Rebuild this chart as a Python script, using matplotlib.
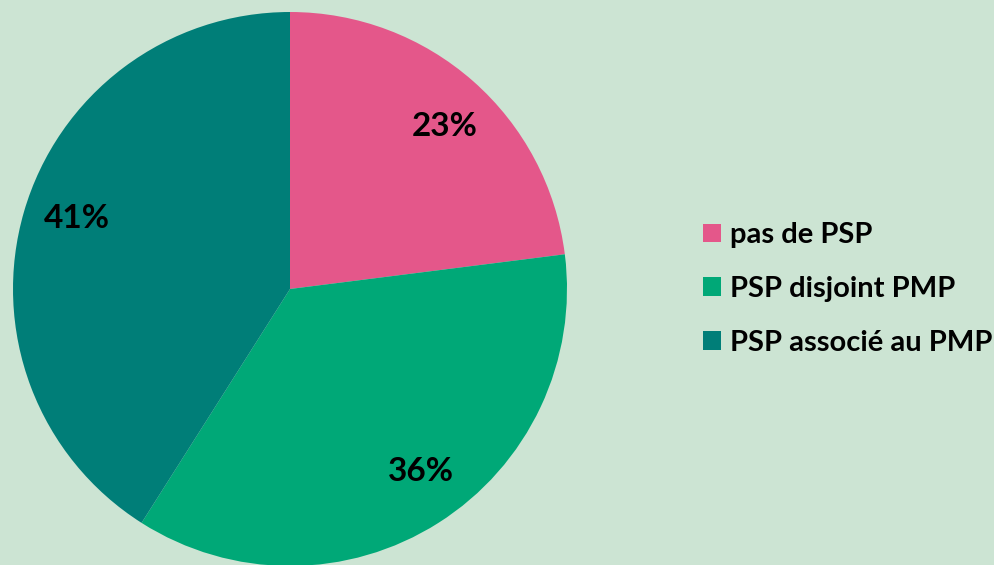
import matplotlib
matplotlib.use("Agg")
import numpy as np
import matplotlib.pyplot as plt
from matplotlib.patches import Patch

categories = ['pas de PSP', 'PSP disjoint PMP', 'PSP associé au PMP']
shares = [23, 36, 41]
colors = ['#E4578A', '#00A877', '#007E78']
bg = '#CCE4D3'

plt.rcParams['font.family'] = ['Lato', 'DejaVu Sans']

W, H = 994, 565
fig = plt.figure(figsize=(W/100, H/100), dpi=100, facecolor=bg)

# pie centre (290, 289) px, radius 277 px
cx, cy, r = 290, H - 289, 277
ax = fig.add_axes([(cx - r)/W, (cy - r)/H, 2*r/W, 2*r/H])
ax.set_facecolor(bg)
wedges, texts, autotexts = ax.pie(shares, colors=colors, startangle=90, counterclock=False,
                                  autopct='%d%%', pctdistance=0.81, radius=1,
                                  textprops={'fontsize': 24, 'fontweight': 'bold', 'color': 'black'})
# labels are not exactly at the wedge middles in the original (degrees)
nudge = [-2.3, 3.2, -2.0]
for t, n in zip(autotexts, nudge):
    x, y = t.get_position()
    a = np.arctan2(y, x) + np.radians(n)
    d = np.hypot(x, y)
    t.set_position((d*np.cos(a), d*np.sin(a)))
ax.set_xlim(-1, 1)
ax.set_ylim(-1, 1)
ax.set_aspect('equal')
ax.axis('off')

handles = [Patch(facecolor=c, edgecolor='none') for c in colors]
fig.legend(handles, categories, loc='center left', bbox_to_anchor=(677/W, 1 - 289/H),
           frameon=False, prop={'weight': 'bold', 'size': 21},
           handlelength=0.62, handleheight=0.62, handletextpad=0.3, labelspacing=0.95)

fig.savefig('out.png', dpi=100, facecolor=bg)
